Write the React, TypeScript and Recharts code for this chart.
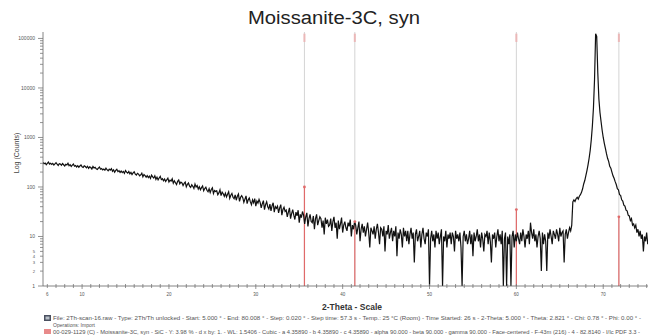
import React from 'react';
import { LineChart, Line, XAxis, YAxis, ReferenceLine, ReferenceDot } from 'recharts';

// Scan: 2-Theta from 5.5° in 0.125° steps
const SCAN_START = 5.5;
const SCAN_STEP = 0.125;

// Counts (one row per degree, log scale)
const counts: number[] = [
  312, 296, 305, 281, 299, 318, 290, 302, // 5.5
  285, 300, 277, 294, 309, 288, 271, 296, // 6.5
  290, 274, 298, 281, 266, 287, 279, 301, // 7.5
  268, 282, 259, 276, 290, 263, 271, 254, // 8.5
  270, 251, 265, 279, 256, 248, 267, 259, // 9.5
  244, 262, 238, 255, 247, 231, 259, 242, // 10.5
  249, 232, 226, 241, 253, 229, 236, 221, // 11.5
  231, 218, 240, 223, 212, 229, 219, 235, // 12.5
  208, 222, 199, 216, 227, 204, 213, 197, // 13.5
  210, 195, 206, 188, 214, 199, 191, 205, // 14.5
  184, 197, 178, 192, 203, 181, 174, 189, // 15.5
  182, 168, 175, 190, 161, 179, 170, 158, // 16.5
  170, 155, 166, 149, 174, 160, 152, 168, // 17.5
  143, 158, 139, 152, 164, 141, 147, 133, // 18.5
  145, 129, 140, 151, 126, 137, 132, 146, // 19.5
  119, 133, 122, 112, 130, 138, 116, 125, // 20.5
  121, 107, 118, 126, 101, 113, 120, 104, // 21.5
  98, 111, 103, 93, 115, 100, 107, 91, // 22.5
  101, 88, 97, 105, 84, 93, 99, 86, // 23.5
  80, 92, 77, 89, 96, 74, 85, 81, // 24.5
  84, 70, 76, 88, 67, 79, 73, 65, // 25.5
  75, 63, 71, 80, 59, 68, 74, 62, // 26.5
  58, 69, 54, 65, 72, 51, 62, 67, // 27.5
  61, 49, 57, 66, 46, 55, 60, 50, // 28.5
  44, 55, 48, 58, 41, 52, 47, 56, // 29.5
  49, 38, 46, 53, 35, 44, 50, 40, // 30.5
  36, 45, 33, 42, 48, 31, 40, 37, // 31.5
  41, 30, 38, 44, 27, 35, 39, 32, // 32.5
  34, 25, 31, 38, 23, 29, 35, 27, // 33.5
  22, 31, 26, 34, 19, 28, 24, 32, // 34.5
  27, 18, 25, 30, 16, 23, 28, 20, // 35.5
  19, 26, 14, 23, 28, 17, 21, 25, // 36.5
  23, 15, 21, 11, 24, 18, 22, 16, // 37.5
  17, 23, 13, 20, 25, 15, 19, 9, // 38.5
  21, 14, 18, 24, 12, 17, 20, 15, // 39.5
  13, 19, 16, 22, 10, 17, 14, 20, // 40.5
  17, 11, 15, 20, 8, 14, 18, 12, // 41.5
  16, 10, 14, 19, 12, 6, 15, 13, // 42.5
  11, 16, 9, 14, 18, 12, 7, 15, // 43.5
  14, 10, 16, 5, 13, 11, 17, 9, // 44.5
  12, 15, 8, 13, 10, 16, 4, 12, // 45.5
  9, 14, 11, 6, 15, 10, 13, 8, // 46.5
  13, 7, 11, 15, 9, 12, 3, 11, // 47.5
  14, 8, 10, 13, 6, 11, 15, 9, // 48.5
  7, 12, 10, 14, 1, 9, 13, 8, // 49.5
  11, 6, 13, 9, 12, 7, 10, 14, // 50.5
  1, 10, 8, 13, 6, 11, 9, 12, // 51.5
  7, 12, 10, 5, 13, 9, 11, 8, // 52.5
  12, 6, 1, 10, 13, 8, 11, 7, // 53.5
  9, 13, 7, 11, 4, 12, 8, 10, // 54.5
  14, 8, 11, 6, 12, 9, 5, 11, // 55.5
  10, 13, 7, 12, 8, 3, 11, 9, // 56.5
  12, 6, 10, 14, 8, 11, 7, 13, // 57.5
  1, 9, 12, 1, 10, 7, 11, 1, // 58.5
  10, 13, 6, 11, 8, 12, 9, 7, // 59.5
  12, 8, 14, 10, 6, 11, 9, 13, // 60.5
  7, 19, 12, 9, 14, 8, 11, 6, // 61.5
  10, 13, 9, 2, 12, 7, 11, 8, // 62.5
  2, 12, 9, 14, 10, 7, 13, 11, // 63.5
  9, 14, 11, 8, 15, 10, 12, 13, // 64.5
  3, 11, 14, 9, 12, 15, 13, 17, // 65.5
  50, 55, 51, 58, 62, 57, 65, 70, // 66.5
  78, 92, 115, 135, 170, 215, 280, 380, // 67.5
  550, 900, 1700, 4000, 15000, 125000, 110000, 20000, // 68.5
  6000, 3200, 2100, 1400, 1000, 760, 600, 470, // 69.5
  380, 330, 262, 240, 200, 168, 150, 128, // 70.5
  112, 92, 88, 70, 68, 55, 52, 43, // 71.5
  41, 34, 33, 27, 26, 21, 23, 17, // 72.5
  18, 15, 17, 12, 14, 10, 13, 9, // 73.5
  11, 5, 10, 8, 12, 7, 9, 11, // 74.5
  8, // 75.5
];

// Reference pattern 00-029-1129 Moissanite-3C (2-Theta, relative intensity)
const stickTwoTheta = [35.6, 41.4, 60.0, 71.8, 75.5];
const stickIntensity = [100, 20, 35, 25, 5];

// Axis ticks
const xTickValues = [6, 7, 8, 9, 10, 11, 12, 13, 14, 15, 16, 17, 18, 19, 20, 21, 22, 23, 24, 25, 26, 27, 28, 29, 30,
  31, 32, 33, 34, 35, 36, 37, 38, 39, 40, 41, 42, 43, 44, 45, 46, 47, 48, 49, 50, 51, 52, 53, 54, 55, 56, 57, 58,
  59, 60, 61, 62, 63, 64, 65, 66, 67, 68, 69, 70, 71, 72, 73, 74, 75];
const xTickLabels = [6, 10, 20, 30, 40, 50, 60, 70];
const yDecades = [1, 10, 100, 1000, 10000];
const yMinorMultipliers = [1, 2, 3, 4, 5, 6, 7, 8, 9];
const yTickLabels = [1, 2, 3, 4, 5, 10, 100, 1000, 10000, 100000];

const Y_MAX = 135000;

const data = counts.map((c, i) => ({ t: SCAN_START + i * SCAN_STEP, c }));
const yTickValues = [
  ...yDecades.flatMap((d) => yMinorMultipliers.map((m) => m * d)),
  100000,
];

const FONT = '"Liberation Sans", Arial, sans-serif';

const YTick = (props: any) => {
  const { x, y, payload } = props;
  const v = payload.value;
  const isDecade = [1, 10, 100, 1000, 10000, 100000].includes(v);
  const hasLabel = yTickLabels.includes(v);
  const len = isDecade ? 5 : 3;
  return (
    <g>
      <line x1={x - len} y1={y} x2={x} y2={y} stroke="#777" strokeWidth={0.8} />
      {hasLabel && (
        <text x={x - 8} y={y} dy="0.35em" textAnchor="end" fontSize={isDecade ? 5 : 4.2} fill="#555" fontFamily={FONT}>
          {v}
        </text>
      )}
    </g>
  );
};

const XTick = (props: any) => {
  const { x, y, payload } = props;
  const v = payload.value;
  const hasLabel = xTickLabels.includes(v);
  const major = v % 10 === 0;
  return (
    <g>
      <line x1={x} y1={y - 2} x2={x} y2={y + (major ? 3 : 2)} stroke="#777" strokeWidth={0.8} />
      {hasLabel && (
        <text x={x} y={y + 10} textAnchor="middle" fontSize={4.5} fill="#555" fontFamily={FONT}>
          {v}
        </text>
      )}
    </g>
  );
};

export default function App() {
  return (
    <div style={{ position: 'absolute', left: 0, top: 0, width: 648, height: 336, overflow: 'hidden', background: '#fff' }}>
      <LineChart
        width={652}
        height={336}
        data={data}
        margin={{ top: 32, right: 1, left: 0, bottom: 0 }}
      >
        <XAxis
          dataKey="t"
          type="number"
          domain={[5.5, 75.5]}
          ticks={xTickValues}
          interval={0}
          allowDataOverflow
          height={50}
          tickSize={0}
          tickMargin={0}
          tickLine={false}
          axisLine={{ stroke: '#666', strokeWidth: 0.8 }}
          tick={<XTick />}
        />
        <YAxis
          type="number"
          scale="log"
          domain={[1, Y_MAX]}
          ticks={yTickValues}
          interval={0}
          allowDataOverflow
          width={43}
          tickSize={0}
          tickMargin={0}
          tickLine={false}
          axisLine={{ stroke: '#666', strokeWidth: 0.8 }}
          tick={<YTick />}
        />
        {stickTwoTheta.map((t) => (
          <ReferenceLine key={'g' + t} x={t} stroke="#cfcfcf" strokeWidth={0.9} ifOverflow="hidden" />
        ))}
        {stickTwoTheta.map((t) => (
          <ReferenceLine
            key={'m' + t}
            segment={[{ x: t, y: 85000 }, { x: t, y: 125000 }]}
            stroke="#ebb8b8"
            strokeWidth={2}
            ifOverflow="hidden"
          />
        ))}
        {stickTwoTheta.map((t, i) => (
          <ReferenceLine
            key={'r' + t}
            segment={[{ x: t, y: 1 }, { x: t, y: stickIntensity[i] }]}
            stroke="#e06a6a"
            strokeWidth={1.2}
            ifOverflow="hidden"
          />
        ))}
        {stickTwoTheta.map((t, i) => (
          <ReferenceDot key={'d' + t} x={t} y={stickIntensity[i]} r={1.4} fill="#e06a6a" stroke="none" ifOverflow="hidden" />
        ))}
        <Line
          type="linear"
          dataKey="c"
          stroke="#111"
          strokeWidth={1.2}
          dot={false}
          isAnimationActive={false}
        />
      </LineChart>
      <svg width={648} height={336} style={{ position: 'absolute', left: 0, top: 0, pointerEvents: 'none' }}>
        <text x={334} y={24} textAnchor="middle" fontSize={18} fill="#222" fontFamily={FONT} textLength={172} lengthAdjust="spacingAndGlyphs">
          Moissanite-3C, syn
        </text>
        <text
          x={17}
          y={153}
          transform="rotate(-90 17 153)"
          textAnchor="middle"
          dominantBaseline="middle"
          fontSize={7}
          fill="#444"
          fontFamily={FONT}
        >
          Log (Counts)
        </text>
        <text x={352} y={310} textAnchor="middle" fontSize={8.5} fontWeight="bold" fill="#333" fontFamily={FONT}>
          2-Theta - Scale
        </text>
        <rect x={44} y={315} width={7} height={6} fill="#4a5060" />
        <rect x={45.5} y={316.5} width={4} height={3} fill="#b8c0c8" />
        <text x={53} y={320} fontSize={4.6} fill="#555" fontFamily={FONT} textLength={588} lengthAdjust="spacingAndGlyphs">
          File: 2Th-scan-16.raw - Type: 2Th/Th unlocked - Start: 5.000 ° - End: 80.008 ° - Step: 0.020 ° - Step time: 57.3 s - Temp.: 25 °C (Room) - Time Started: 26 s - 2-Theta: 5.000 ° - Theta: 2.821 ° - Chi: 0.78 ° - Phi: 0.00 ° -
        </text>
        <text x={53} y={326.5} fontSize={4.6} fill="#555" fontFamily={FONT} textLength={42} lengthAdjust="spacingAndGlyphs">
          Operations: Import
        </text>
        <rect x={44} y={329} width={7} height={5} fill="#e88a8a" />
        <text x={53} y={333.5} fontSize={4.6} fill="#555" fontFamily={FONT} textLength={587} lengthAdjust="spacingAndGlyphs">
          00-029-1129 (C) - Moissanite-3C, syn - SiC - Y: 3.98 % - d x by: 1. - WL: 1.5406 - Cubic - a 4.35890 - b 4.35890 - c 4.35890 - alpha 90.000 - beta 90.000 - gamma 90.000 - Face-centered - F-43m (216) - 4 - 82.8140 - I/Ic PDF 3.3 -
        </text>
      </svg>
    </div>
  );
}
